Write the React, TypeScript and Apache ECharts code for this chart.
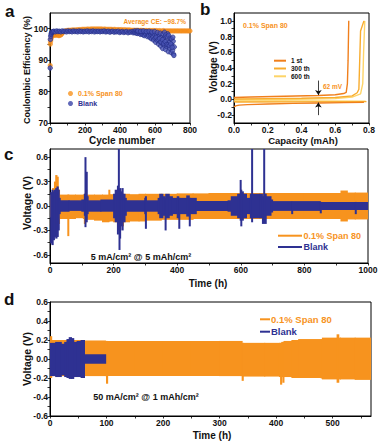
import React, { useEffect, useRef } from 'react';
import * as echarts from 'echarts';

const ORANGE = '#F7931E';
const BLUE = '#2E3192';
const FONT = "'Liberation Sans', Arial, Helvetica, sans-serif";

// ---------- panel a : Coulombic efficiency ----------
const spanCE: [number, number][] = [
  [1, 88.3], [2, 95.1], [3, 95.9], [5, 96.5], [7, 97.1], [10, 97.5], [13, 97.8], [16, 98.0], [19, 97.9], [22, 98.1],
  [26, 98.0], [30, 98.2], [34, 97.9], [38, 98.1], [42, 98.2], [46, 98.0], [50, 97.8], [54, 97.9], [58, 98.1], [62, 98.0],
  [66, 98.3], [70, 98.6], [76, 99.0], [82, 99.2], [88, 99.3], [96, 99.4], [104, 99.5], [112, 99.5], [120, 99.5], [128, 99.6],
  [136, 99.6], [144, 99.6], [152, 99.6], [160, 99.7], [168, 99.7], [176, 99.7], [184, 99.8], [192, 99.8], [200, 99.8], [208, 99.8],
  [216, 99.9], [224, 99.8], [232, 99.9], [240, 99.9], [248, 99.9], [256, 99.9], [264, 99.9], [272, 99.9], [280, 99.9], [288, 99.9],
  [296, 99.9], [304, 99.8], [312, 99.9], [320, 99.8], [328, 99.8], [336, 99.8], [344, 99.8], [352, 99.8], [360, 99.7], [368, 99.8],
  [376, 99.7], [384, 99.7], [392, 99.7], [400, 99.7], [408, 99.7], [416, 99.6], [424, 99.7], [432, 99.6], [440, 99.6], [448, 99.6],
  [456, 99.6], [464, 99.5], [472, 99.5], [480, 99.5], [488, 99.5], [496, 99.5], [504, 99.5], [512, 99.4], [520, 99.5], [528, 99.4],
  [536, 99.4], [544, 99.4], [552, 99.4], [560, 99.4], [568, 99.4], [576, 99.4], [584, 99.4], [592, 99.4], [600, 99.4], [608, 99.4],
  [616, 99.3], [624, 99.4], [632, 99.3], [640, 99.3], [648, 99.4], [656, 99.3], [664, 99.3], [672, 99.3], [680, 99.3], [688, 99.3],
  [696, 99.3], [704, 99.3], [712, 99.3], [720, 99.3], [728, 99.3], [736, 99.3], [744, 99.3], [752, 99.3], [760, 99.3], [768, 99.3],
  [776, 99.3], [784, 99.3], [792, 99.3], [800, 99.3],
];
const blankBase: [number, number][] = [
  [1, 87.5], [2, 96.6], [4, 97.6], [6, 98.2], [8, 98.6], [11, 98.9], [14, 99.0], [18, 99.1], [22, 99.2], [30, 99.0],
  [38, 99.3], [46, 99.1], [54, 99.2], [62, 99.0], [70, 99.3], [78, 99.1], [86, 99.2], [94, 99.0], [102, 99.3], [110, 99.1],
  [118, 99.2], [126, 99.0], [134, 99.3], [142, 99.1], [150, 99.2], [158, 99.0], [166, 99.3], [174, 99.1], [182, 99.2], [190, 99.0],
  [198, 99.2], [206, 99.1], [214, 99.3], [222, 99.0], [230, 99.2], [238, 99.1], [246, 99.3], [254, 99.0], [262, 99.2], [270, 99.1],
  [278, 99.2], [286, 99.0], [294, 99.2], [302, 99.1], [310, 99.3], [318, 99.0], [326, 99.1], [334, 99.2], [342, 98.9], [350, 99.1],
  [358, 99.2], [366, 98.9], [374, 99.1], [382, 99.0], [390, 99.2], [398, 98.8], [406, 99.0], [414, 99.1], [422, 98.8], [430, 99.0],
  [438, 99.1], [446, 98.7], [454, 99.0], [462, 98.9], [470, 99.1], [476, 98.7],
];
const blankFade: [number, number][] = [
  [480, 99.2], [484, 98.8], [488, 99.3], [492, 98.6], [496, 99.1], [500, 98.5], [504, 99.2], [508, 98.6], [512, 99.0], [516, 98.2],
  [520, 99.1], [524, 98.4], [528, 98.9], [532, 98.0], [536, 99.0], [540, 97.8], [544, 98.7], [548, 98.2], [552, 99.0], [556, 97.5],
  [560, 98.5], [564, 97.8], [568, 98.8], [572, 97.1], [576, 98.3], [580, 96.8], [584, 98.6], [588, 97.4], [592, 96.4], [596, 98.2],
  [600, 96.9], [604, 95.7], [608, 98.0], [612, 96.3], [616, 97.5], [620, 95.1], [624, 97.8], [628, 95.9], [632, 94.5], [636, 97.2],
  [640, 95.4], [644, 93.7], [648, 96.7], [652, 94.8], [656, 97.7], [660, 93.4], [664, 96.1], [668, 94.3], [672, 98.4], [676, 92.7],
  [680, 95.6], [684, 93.8], [688, 96.9], [692, 92.4], [696, 94.9], [700, 93.1], [704, 96.0], [706, 91.9], [708, 91.5], [710, 94.2],
];
const blankFadeExtra: [number, number][] = [
  [502, 99.3], [518, 99.2], [534, 99.3], [550, 99.1], [566, 99.2], [582, 99.0], [598, 99.1], [614, 98.8], [630, 98.6], [646, 98.3],
  [654, 98.9], [662, 98.0], [670, 97.5], [678, 97.9], [686, 97.0], [694, 96.8], [702, 97.3], [606, 97.3], [618, 96.6], [626, 96.9],
  [634, 95.8], [642, 96.5], [650, 95.3], [658, 95.9], [666, 95.0], [674, 94.9], [682, 94.6], [690, 95.2], [698, 94.1],
];

// ---------- panel b : voltage profiles ----------
const cycleNames = ['1 st', '300 th', '600 th'];
const cycleColors = ['#F07F1C', '#F8AC2E', '#FDD468'];
const platingCurves: [number, number][][] = [
  [[0, -0.095], [0.01, -0.082], [0.03, -0.072], [0.08, -0.066], [0.2, -0.058], [0.35, -0.05], [0.5, -0.045], [0.65, -0.041], [0.77, -0.038]],
  [[0, -0.03], [0.02, -0.033], [0.4, -0.031], [0.785, -0.028]],
  [[0, -0.02], [0.3, -0.02], [0.78, -0.024]],
];
const strippingCurves: [number, number][][] = [
  [[0, 0.025], [0.1, 0.03], [0.3, 0.04], [0.5, 0.05], [0.6, 0.06], [0.65, 0.075], [0.665, 0.09], [0.672, 0.2], [0.676, 0.5], [0.68, 1.0]],
  [[0, 0.005], [0.2, 0.01], [0.4, 0.015], [0.6, 0.025], [0.7, 0.045], [0.73, 0.085], [0.74, 0.13], [0.745, 0.5], [0.75, 0.87], [0.77, 1.0]],
  [[0, -0.005], [0.3, 0.0], [0.6, 0.01], [0.7, 0.03], [0.75, 0.07], [0.763, 0.2], [0.768, 0.6], [0.775, 1.0]],
];
const overpotentialCap = 0.5;
const overpotentialArrows = [[0.24, 0.055], [-0.2, -0.04]];

// ---------- panel c : 5 mA/cm2 cycling (envelopes) ----------
const spanCTime = [0, 8, 14, 18, 22, 26, 30, 56, 58, 80, 105, 108, 112, 140, 165, 185, 187, 200, 228, 230, 250, 280, 300, 350, 400, 450, 500, 560, 620, 680, 740, 800, 860, 915, 935, 960, 1000];
const spanCHigh = [0.14, 0.22, 0.3, 0.38, 0.36, 0.2, 0.14, 0.14, 0.14, 0.14, 0.14, 0.15, 0.14, 0.14, 0.14, 0.2, 0.145, 0.145, 0.15, 0.15, 0.145, 0.15, 0.15, 0.15, 0.155, 0.155, 0.16, 0.16, 0.16, 0.16, 0.16, 0.16, 0.16, 0.19, 0.165, 0.165, 0.165];
const spanCLow = [-0.14, -0.3, -0.32, -0.3, -0.28, -0.22, -0.16, -0.37, -0.16, -0.15, -0.16, -0.22, -0.17, -0.18, -0.2, -0.19, -0.19, -0.2, -0.25, -0.2, -0.19, -0.19, -0.18, -0.17, -0.17, -0.16, -0.16, -0.16, -0.16, -0.16, -0.16, -0.16, -0.16, -0.19, -0.165, -0.165, -0.165];

const blankCTime = [2, 6, 10, 14, 18, 22, 26, 29, 32, 60, 100, 108, 110, 112, 114, 116, 120, 160, 200, 205, 212, 215, 217, 219, 222, 226, 230, 236, 240, 298, 300, 302, 340, 345, 355, 362, 364, 375, 385, 400, 405, 407, 430, 438, 440, 460, 560, 570, 590, 598, 600, 602, 608, 618, 630, 634, 636, 660, 668, 672, 674, 680, 695, 700, 760, 762, 850, 852, 960, 962, 1000];
const blankCHigh = [0.17, 0.2, 0.18, 0.2, 0.22, 0.24, 0.2, 0.1, 0.07, 0.07, 0.08, 0.15, 0.6, 0.2, 0.42, 0.12, 0.07, 0.08, 0.15, 0.2, 0.25, 0.75, 0.2, 0.22, 0.18, 0.22, 0.15, 0.1, 0.07, 0.1, 0.12, 0.07, 0.1, 0.15, 0.12, 0.1, 0.15, 0.12, 0.1, 0.12, 0.1, 0.1, 0.13, 0.1, 0.1, 0.06, 0.07, 0.12, 0.15, 0.32, 0.2, 0.18, 0.15, 0.1, 0.15, 0.75, 0.15, 0.15, 0.12, 0.75, 0.15, 0.12, 0.08, 0.06, 0.05, 0.06, 0.05, 0.05, 0.05, 0.05, 0.05];
const blankCLow = [-0.46, -0.48, -0.42, -0.38, -0.4, -0.38, -0.3, -0.1, -0.07, -0.06, -0.07, -0.12, -0.26, -0.15, -0.2, -0.1, -0.07, -0.07, -0.15, -0.2, -0.35, -0.3, -0.54, -0.4, -0.25, -0.3, -0.2, -0.12, -0.07, -0.1, -0.28, -0.07, -0.1, -0.15, -0.12, -0.3, -0.15, -0.12, -0.1, -0.15, -0.28, -0.1, -0.13, -0.25, -0.1, -0.06, -0.07, -0.12, -0.15, -0.18, -0.25, -0.18, -0.15, -0.1, -0.15, -0.2, -0.15, -0.15, -0.22, -0.15, -0.22, -0.12, -0.08, -0.06, -0.1, -0.06, -0.09, -0.05, -0.1, -0.05, -0.05];

// ---------- panel d : 50 mA/cm2 cycling (envelopes) ----------
const spanDTime = [0, 3, 30, 60, 98, 100, 102, 150, 200, 250, 300, 338, 340, 342, 380, 406, 408, 410, 412, 414, 428, 440, 480, 482, 508, 511, 514, 540, 568];
const spanDHigh = [0.24, 0.2, 0.2, 0.195, 0.19, 0.19, 0.19, 0.19, 0.19, 0.19, 0.19, 0.19, 0.17, 0.17, 0.17, 0.17, 0.17, 0.18, 0.18, 0.19, 0.2, 0.21, 0.21, 0.225, 0.26, 0.225, 0.225, 0.225, 0.225];
const spanDLow = [-0.2, -0.18, -0.18, -0.18, -0.18, -0.26, -0.18, -0.18, -0.18, -0.18, -0.18, -0.18, -0.23, -0.185, -0.185, -0.19, -0.27, -0.19, -0.25, -0.19, -0.2, -0.2, -0.205, -0.215, -0.25, -0.215, -0.215, -0.22, -0.22];

const blankDTime = [0, 10, 20, 26, 30, 34, 38, 42, 48, 55, 61, 98.5];
const blankDHigh = [0.17, 0.18, 0.16, 0.18, 0.21, 0.23, 0.22, 0.18, 0.19, 0.2, 0.05, 0.05];
const blankDLow = [-0.18, -0.19, -0.17, -0.19, -0.2, -0.21, -0.21, -0.19, -0.19, -0.2, -0.05, -0.05];

// ---------- axis ticks / labels ----------
const aXLabels = [0, 200, 400, 600, 800];
const aXTicks = [0, 100, 200, 300, 400, 500, 600, 700, 800];
const aYLabels = [70, 80, 90, 100];
const aYTicks = [70, 75, 80, 85, 90, 95, 100];
const bXLabels = [0, 0.2, 0.4, 0.6, 0.8];
const bXTicks = [0, 0.1, 0.2, 0.3, 0.4, 0.5, 0.6, 0.7, 0.8];
const bYLabels = [-0.2, 0, 0.2, 0.4, 0.6, 0.8, 1.0];
const bYTicks = [-0.2, -0.1, 0, 0.1, 0.2, 0.3, 0.4, 0.5, 0.6, 0.7, 0.8, 0.9, 1.0];
const cXLabels = [0, 200, 400, 600, 800, 1000];
const cXTicks = [0, 100, 200, 300, 400, 500, 600, 700, 800, 900, 1000];
const cYLabels = [-0.6, -0.3, 0, 0.3, 0.6];
const cYTicks = [-0.6, -0.45, -0.3, -0.15, 0, 0.15, 0.3, 0.45, 0.6];
const dXLabels = [0, 100, 200, 300, 400, 500];
const dXTicks = [0, 50, 100, 150, 200, 250, 300, 350, 400, 450, 500, 550];
const dYLabels = [-0.6, -0.4, -0.2, 0, 0.2, 0.4, 0.6];
const dYTicks = [-0.6, -0.5, -0.4, -0.3, -0.2, -0.1, 0, 0.1, 0.2, 0.3, 0.4, 0.5, 0.6];

const bandData = (t: number[], hi: number[], lo: number[]) =>
  t.slice(0, -1).map((v, i) => [v, hi[i], lo[i], t[i + 1]]);

const bandRenderer = (color: string) => (params: any, api: any) => {
  const p0 = api.coord([api.value(0), api.value(1)]);
  const p1 = api.coord([api.value(3), api.value(2)]);
  const w = Math.max(p1[0] - p0[0], 1) + 1;
  return {
    type: 'rect',
    shape: { x: p0[0] - 0.5, y: p0[1], width: w, height: p1[1] - p0[1] },
    style: { fill: color, stroke: 'none' },
  };
};

const fmt1 = (v: number) => v.toFixed(1);
const fmt0 = (v: number) => String(Math.round(v));

const axis = (gridIndex: number, min: number, max: number, ticks: number[], labels: number[], formatter: any) => ({
  type: 'value',
  gridIndex,
  min,
  max,
  axisLine: { show: true, onZero: false, lineStyle: { color: '#000', width: 1 } },
  axisTick: { show: true, inside: false, length: 2.5, customValues: ticks, lineStyle: { color: '#000', width: 0.8 } },
  axisLabel: {
    show: true, customValues: labels, formatter, fontSize: 8.5, fontWeight: 'bold',
    color: '#111', margin: 2, fontFamily: FONT,
  },
  splitLine: { show: false },
});

const txt = (text: string, x: number, y: number, size: number, opts: any = {}) => ({
  type: 'text',
  x,
  y,
  rotation: opts.rotation || 0,
  silent: true,
  style: {
    text,
    fill: opts.color || '#111',
    font: `bold ${size}px ${FONT}`,
    fontSize: size,
    fontWeight: 'bold',
    fontFamily: FONT,
    align: opts.align || 'center',
    textAlign: opts.align || 'center',
    verticalAlign: 'middle',
    textVerticalAlign: 'middle',
  },
});

const bar = (x: number, y: number, w: number, color: string) => ({
  type: 'rect',
  silent: true,
  shape: { x, y: y - 1, width: w, height: 2 },
  style: { fill: color },
});

export default function App() {
  const ref = useRef<HTMLDivElement>(null);

  useEffect(() => {
    if (!ref.current) return;
    const chart = echarts.init(ref.current, undefined, { renderer: 'svg' });

    const lineSeries: any[] = [];
    cycleNames.forEach((name, i) => {
      [platingCurves[i], strippingCurves[i]].forEach((curve, k) => {
        lineSeries.push({
          type: 'line',
          name,
          xAxisIndex: 1,
          yAxisIndex: 1,
          data: curve,
          showSymbol: false,
          symbol: 'none',
          smooth: false,
          lineStyle: { color: cycleColors[i], width: 1.4 },
          itemStyle: { color: cycleColors[i] },
          z: 3 - i,
          ...(i === 0 && k === 0
            ? {
                markLine: {
                  silent: true,
                  symbol: ['none', 'arrow'],
                  symbolSize: 5,
                  label: { show: false },
                  lineStyle: { color: '#111', width: 0.8, type: 'solid' },
                  data: overpotentialArrows.map(([from, to]) => [
                    { coord: [overpotentialCap, from] },
                    { coord: [overpotentialCap, to] },
                  ]),
                },
              }
            : {}),
        });
      });
    });

    const option: any = {
      animation: false,
      backgroundColor: '#fff',
      textStyle: { fontFamily: FONT, fontWeight: 'bold' },
      grid: [
        { left: 50, top: 13, width: 140, height: 110, show: true, borderColor: '#000', borderWidth: 1 },
        { left: 234, top: 13, width: 135, height: 110, show: true, borderColor: '#000', borderWidth: 1 },
        { left: 50, top: 149, width: 318, height: 114, show: true, borderColor: '#000', borderWidth: 1 },
        { left: 50, top: 302, width: 321, height: 114, show: true, borderColor: '#000', borderWidth: 1 },
      ],
      xAxis: [
        axis(0, 0, 800, aXTicks, aXLabels, fmt0),
        axis(1, 0, 0.8, bXTicks, bXLabels, fmt1),
        axis(2, 0, 1000, cXTicks, cXLabels, fmt0),
        axis(3, 0, 568, dXTicks, dXLabels, fmt0),
      ],
      yAxis: [
        axis(0, 70, 105, aYTicks, aYLabels, fmt0),
        axis(1, -0.3, 1.1, bYTicks, bYLabels, fmt1),
        axis(2, -0.7, 0.7, cYTicks, cYLabels, fmt1),
        axis(3, -0.6, 0.6, dYTicks, dYLabels, fmt1),
      ],
      legend: [
        {
          orient: 'vertical', left: 63, top: 84, itemWidth: 5, itemHeight: 5, itemGap: 1,
          itemStyle: { borderWidth: 0 },
          textStyle: { fontSize: 7, lineHeight: 9, fontWeight: 'bold', fontFamily: FONT },
          data: [
            { name: '0.1% Span 80', icon: 'circle', itemStyle: { color: ORANGE, borderWidth: 0 }, textStyle: { color: ORANGE } },
            { name: 'Blank', icon: 'circle', itemStyle: { color: '#3A44A8', borderWidth: 0 }, textStyle: { color: BLUE } },
          ],
          selectedMode: false,
        },
        {
          orient: 'vertical', left: 269, top: 52.2, itemWidth: 12, itemHeight: 2, itemGap: 0.8,
          itemStyle: { borderWidth: 0 },
          textStyle: { fontSize: 6.5, lineHeight: 7, fontWeight: 'bold', fontFamily: FONT, color: '#111' },
          data: cycleNames.map((n, i) => ({
            name: n, icon: 'rect',
            itemStyle: { color: cycleColors[i], borderWidth: 0 },
            textStyle: { color: '#111' },
          })),
          selectedMode: false,
        },
      ],
      series: [
        {
          type: 'scatter', name: '0.1% Span 80', xAxisIndex: 0, yAxisIndex: 0, data: spanCE,
          symbol: 'circle', symbolSize: 4.5,
          itemStyle: { color: ORANGE, borderColor: '#F08214', borderWidth: 0.5 },
        },
        {
          type: 'scatter', name: 'Blank', xAxisIndex: 0, yAxisIndex: 0,
          data: [...blankBase, ...blankFade, ...blankFadeExtra],
          symbol: 'circle', symbolSize: 4.5,
          itemStyle: { color: '#4A55B5', borderColor: '#232C85', borderWidth: 0.8 },
        },
        ...lineSeries,
        {
          type: 'custom', name: '0.1% Span 80', xAxisIndex: 2, yAxisIndex: 2, clip: true,
          data: bandData(spanCTime, spanCHigh, spanCLow), encode: { x: [0, 3], y: [1, 2] },
          renderItem: bandRenderer(ORANGE), itemStyle: { color: ORANGE },
        },
        {
          type: 'custom', name: 'Blank', xAxisIndex: 2, yAxisIndex: 2, clip: true,
          data: bandData(blankCTime, blankCHigh, blankCLow), encode: { x: [0, 3], y: [1, 2] },
          renderItem: bandRenderer(BLUE), itemStyle: { color: BLUE },
        },
        {
          type: 'custom', name: '0.1% Span 80', xAxisIndex: 3, yAxisIndex: 3, clip: true,
          data: bandData(spanDTime, spanDHigh, spanDLow), encode: { x: [0, 3], y: [1, 2] },
          renderItem: bandRenderer(ORANGE), itemStyle: { color: ORANGE },
        },
        {
          type: 'custom', name: 'Blank', xAxisIndex: 3, yAxisIndex: 3, clip: true,
          data: bandData(blankDTime, blankDHigh, blankDLow), encode: { x: [0, 3], y: [1, 2] },
          renderItem: bandRenderer(BLUE), itemStyle: { color: BLUE },
        },
      ],
      graphic: [
        txt('a', 5, 11, 17, { align: 'left' }),
        txt('b', 200, 9, 17, { align: 'left' }),
        txt('c', 4, 154, 17, { align: 'left' }),
        txt('d', 4, 299, 17, { align: 'left' }),
        txt('Coulombic Efficiency (%)', 27, 70, 9, { rotation: Math.PI / 2 }),
        txt('Cycle number', 122, 140.5, 10),
        txt('Average CE: ~98.7%', 186, 21, 6.5, { align: 'right', color: ORANGE }),
        txt('Voltage (V)', 213, 67, 10, { rotation: Math.PI / 2 }),
        txt('Capacity (mAh)', 303, 140.5, 9.5),
        txt('0.1% Span 80', 243, 25, 7, { align: 'left', color: ORANGE }),
        txt('62 mV', 323, 86, 6.5, { align: 'left', color: ORANGE }),
        txt('Voltage (V)', 27, 203, 10.5, { rotation: Math.PI / 2 }),
        txt('Time (h)', 208, 283, 10),
        txt('5 mA/cm² @ 5 mAh/cm²', 141, 257, 9),
        txt('Voltage (V)', 27, 359, 10.5, { rotation: Math.PI / 2 }),
        txt('Time (h)', 212, 435, 10),
        txt('50 mA/cm² @ 1 mAh/cm²', 146, 397, 9),
        // legend of panel c
        bar(278, 235.7, 24, ORANGE),
        txt('0.1% Span 80', 303.5, 235.7, 9, { align: 'left', color: ORANGE }),
        bar(278, 247, 24, BLUE),
        txt('Blank', 303.5, 247, 9, { align: 'left', color: BLUE }),
        // legend of panel d
        bar(260, 319.3, 10, ORANGE),
        txt('0.1% Span 80', 271, 319.3, 9.5, { align: 'left', color: ORANGE }),
        bar(260, 331.7, 10, BLUE),
        txt('Blank', 271, 331.7, 9.5, { align: 'left', color: BLUE }),
      ],
    };

    chart.setOption(option);
    return () => chart.dispose();
  }, []);

  return (
    <div
      ref={ref}
      style={{ position: 'absolute', left: 0, top: 0, width: 386, height: 446, background: '#fff' }}
    />
  );
}
